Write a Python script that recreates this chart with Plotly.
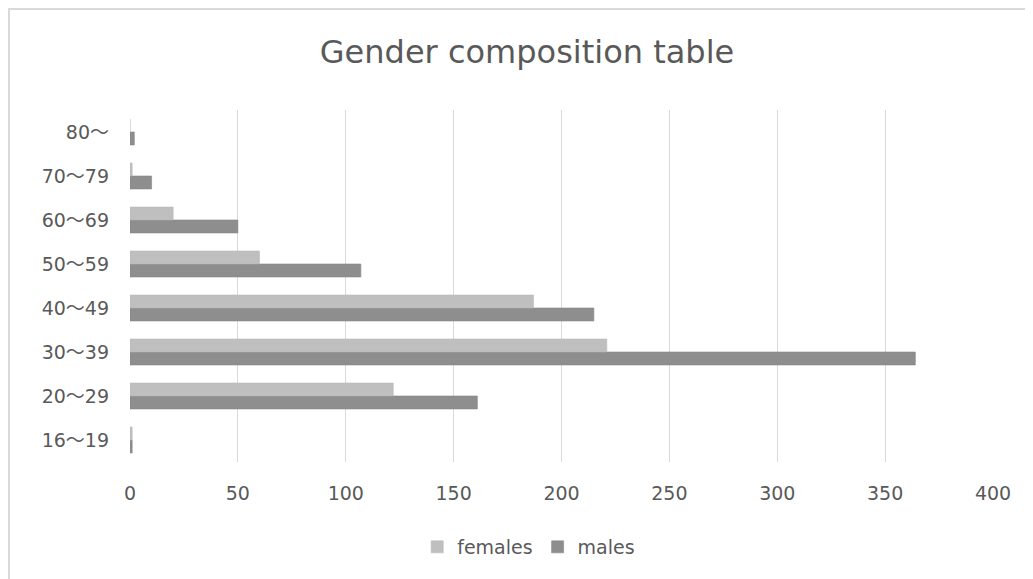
import plotly.graph_objects as go

categories = ["16～19", "20～29", "30～39", "40～49", "50～59", "60～69", "70～79", "80～"]
females = [1, 122, 221, 187, 60, 20, 1, 0]
males = [1, 161, 364, 215, 107, 50, 10, 2]
x_ticks = [0, 50, 100, 150, 200, 250, 300, 350, 400]

# page body adds an 8px offset, so the figure is sized/positioned accordingly
W, H = 1025, 571
L, R, T, B = 122, 40, 102, 117
pw, ph = W - L - R, H - T - B

FONT = "DejaVu Sans, Noto Sans CJK JP, sans-serif"
TXT = "#595959"

fig = go.Figure()
fig.add_trace(go.Bar(y=categories, x=males, name="males", orientation="h",
                     marker=dict(color="#8E8E8E", line=dict(color="#868686", width=0.6))))
fig.add_trace(go.Bar(y=categories, x=females, name="females", orientation="h",
                     marker=dict(color="#BFBFBF", line=dict(color="#B8B8B8", width=0.6))))

fig.update_layout(
    width=W, height=H,
    margin=dict(l=L, r=R, t=T, b=B),
    paper_bgcolor="white", plot_bgcolor="white",
    barmode="group", bargap=0.41, bargroupgap=0,
    font=dict(family=FONT, color=TXT, size=19),
    title=dict(text="Gender composition table", x=(527 - 8) / W, xanchor="center",
               y=1 - 44 / H, yanchor="middle", yref="container",
               font=dict(size=32, color=TXT, family=FONT)),
    legend=dict(orientation="h", x=0.462, xanchor="center",
                y=-(539 - (T + ph)) / ph, yanchor="middle",
                traceorder="reversed", font=dict(size=19, color=TXT),
                itemwidth=30),
    xaxis=dict(range=[0, 400], tickvals=x_ticks, showgrid=True,
               gridcolor="#D9D9D9", gridwidth=1, zeroline=False,
               showline=False, ticks="", ticklabelstandoff=18,
               tickfont=dict(size=19, color=TXT)),
    yaxis=dict(categoryorder="array", categoryarray=categories,
               showgrid=False, zeroline=False, showline=False, ticks="",
               ticklabelstandoff=20, tickfont=dict(size=19, color=TXT)),
    showlegend=True,
)

# outer chart border (light gray), at the figure's top-left edge
x0 = (1 - L) / pw
y1 = (T + ph - 1) / ph
fig.add_shape(type="rect", xref="paper", yref="paper",
              x0=x0, x1=1.2, y0=-0.6, y1=y1,
              line=dict(color="#D9D9D9", width=2), fillcolor="rgba(0,0,0,0)",
              layer="below")

fig.write_html("out.html")
